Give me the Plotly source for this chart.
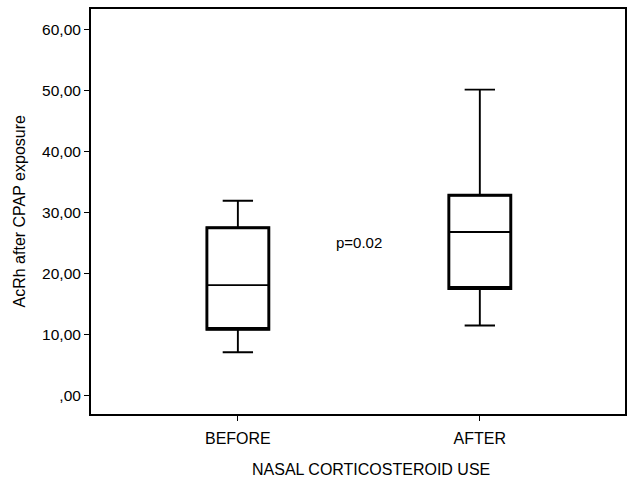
import plotly.graph_objects as go

categories = ["BEFORE", "AFTER"]
lower_whisker = [7.1, 11.5]
q1_values = [10.85, 17.55]
median_values = [18.1, 26.8]
q3_values = [27.5, 32.8]
upper_whisker = [31.9, 50.1]
y_tick_values = [0, 10, 20, 30, 40, 50, 60]
y_tick_labels = [",00", "10,00", "20,00", "30,00", "40,00", "50,00", "60,00"]
x_title = "NASAL CORTICOSTEROID USE"
y_title = "AcRh after CPAP exposure"
p_text = "p=0.02"

FONT = "Liberation Sans, Arial, Helvetica, sans-serif"
xpos = list(range(len(categories)))

fig = go.Figure()
# thin trace: whiskers, caps, median
fig.add_trace(go.Box(
    x=xpos, q1=q1_values, median=median_values, q3=q3_values,
    lowerfence=lower_whisker, upperfence=upper_whisker,
    width=0.256, whiskerwidth=0.49,
    line=dict(color="black", width=1.9), fillcolor="rgba(0,0,0,0)",
    boxpoints=False, showlegend=False, hoverinfo="skip",
))
# thick box outline overlay
fig.add_trace(go.Box(
    x=xpos, q1=q1_values, median=q1_values, q3=q3_values,
    lowerfence=q1_values, upperfence=q3_values,
    width=0.256, whiskerwidth=0,
    line=dict(color="black", width=2.9), fillcolor="rgba(0,0,0,0)",
    boxpoints=False, showlegend=False, hoverinfo="skip",
))

fig.add_annotation(x=0.5, y=25, text=p_text, showarrow=False,
                   font=dict(family=FONT, size=15, color="black"))
fig.add_annotation(xref="paper", yref="paper", x=0.524, y=-0.136, text=x_title,
                   showarrow=False, xanchor="center", yanchor="middle",
                   font=dict(family=FONT, size=16, color="black"))
fig.add_annotation(xref="paper", yref="paper", x=-0.133, y=0.5, text=y_title,
                   showarrow=False, textangle=-90, xanchor="center", yanchor="middle",
                   font=dict(family=FONT, size=16, color="black"))

fig.update_layout(
    width=627, height=479,
    margin=dict(l=91, r=2, t=9, b=65, autoexpand=False),
    paper_bgcolor="white", plot_bgcolor="white",
    font=dict(family=FONT, size=15, color="black"),
    xaxis=dict(
        range=[-0.607, 1.6], tickvals=xpos, ticktext=categories,
        ticks="outside", ticklen=5, tickwidth=1, tickcolor="black",
        tickfont=dict(size=16), ticklabelstandoff=4,
        showline=True, linecolor="black", linewidth=2, mirror=True,
        showgrid=False, zeroline=False, automargin=False,
    ),
    yaxis=dict(
        range=[-3.0, 63.3], tickvals=y_tick_values, ticktext=y_tick_labels,
        ticks="outside", ticklen=5, tickwidth=1, tickcolor="black",
        tickfont=dict(size=15.5),
        showline=True, linecolor="black", linewidth=2, mirror=True,
        showgrid=False, zeroline=False, automargin=False,
    ),
)

fig.write_html("out.html", config={"displayModeBar": False},
               post_script="document.body.style.margin='0';")
